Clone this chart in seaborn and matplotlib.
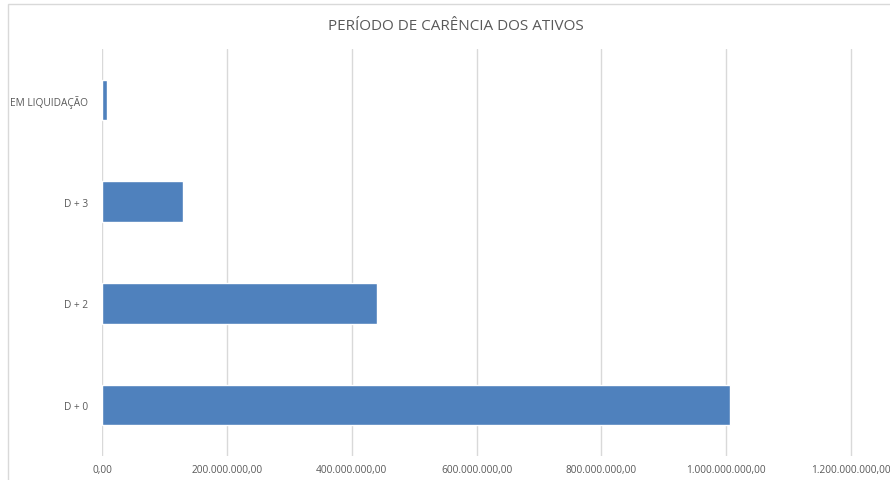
import matplotlib
matplotlib.use("Agg")
import matplotlib.pyplot as plt
import seaborn as sns
import pandas as pd
from matplotlib.ticker import FuncFormatter, MultipleLocator
from matplotlib.patches import Rectangle

categories = ["EM LIQUIDAÇÃO", "D + 3", "D + 2", "D + 0"]
values = [7.5e6, 130e6, 440.5e6, 1006.5e6]
title = "PERÍODO DE CARÊNCIA DOS ATIVOS"

df = pd.DataFrame({"cat": categories, "val": values})

sns.set_style("white")
plt.rcParams["font.family"] = ["Open Sans", "DejaVu Sans"]

fig = plt.figure(figsize=(8.9, 4.81), dpi=100)
ax = fig.add_axes([102/890, 24/481, 751/890, 407/481])

sns.barplot(data=df, y="cat", x="val", orient="h", color="#4F81BD",
            saturation=1, width=0.4, ax=ax, order=categories)

ax.set_xlim(0, 1.2e9 * 751 / 749)
ax.xaxis.set_major_locator(MultipleLocator(2e8))

def fmt(v, pos):
    s = f"{v:,.2f}"
    return s.replace(",", "X").replace(".", ",").replace("X", ".")

ax.xaxis.set_major_formatter(FuncFormatter(fmt))
ax.grid(axis="x", color="#D9D9D9", linewidth=1)
ax.set_axisbelow(True)
for s in ax.spines.values():
    s.set_visible(False)
ax.set_xlabel("")
ax.set_ylabel("")
ax.tick_params(axis="both", length=0, labelsize=7.3, labelcolor="#595959")
ax.tick_params(axis="y", pad=10)
ax.tick_params(axis="x", pad=6)

fig.text(0.512, 0.945, title, ha="center", va="center", fontsize=11, color="#595959")

fig.patches.append(Rectangle((8/890, -0.01), 0.999, 1 - 5/481 + 0.01, transform=fig.transFigure,
                             fill=False, edgecolor="#D9D9D9", linewidth=1))

fig.savefig("out.png", dpi=100)
